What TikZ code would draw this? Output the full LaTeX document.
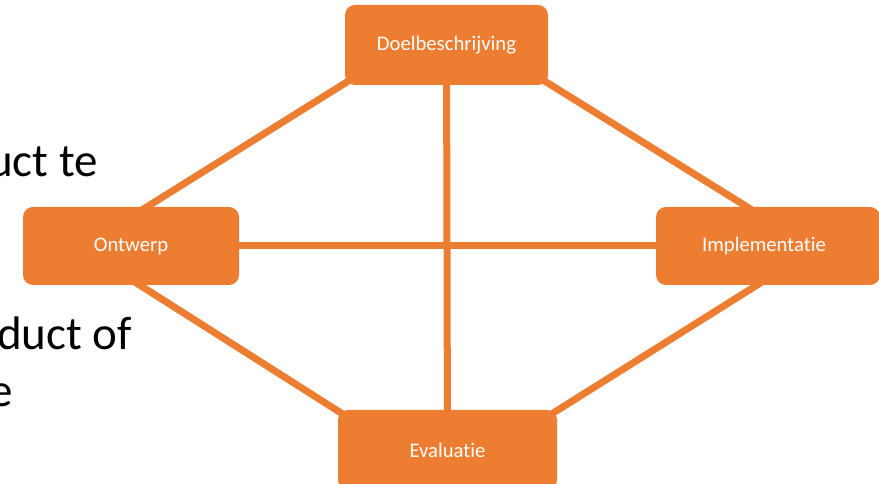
\documentclass[tikz,border=0pt]{standalone}
\usepackage{fontspec}
\setmainfont[Ligatures=NoCommon]{Carlito}
\usetikzlibrary{backgrounds,calc}
\definecolor{accent}{HTML}{ED7D31}
\begin{document}
\begin{tikzpicture}[x=1pt,y=1pt,
  stagebox/.style={fill=accent,draw=none,rounded corners=10pt,inner sep=0pt,
    text=white,font=\fontsize{20.7}{24}\selectfont},
  link/.style={draw=accent,line width=7pt},
  bgtext/.style={anchor=base east,inner sep=0pt,text=black,font=\fontsize{47}{56}\selectfont}]
\useasboundingbox (0,0) rectangle (879,484);
% background slide text
\node[bgtext] (t1) at (98,307) {uct te};
\node[bgtext] (t2) at (132,134) {duct of};
\node[bgtext] (t3) at (13,77) {e};
% boxes
\node[stagebox,minimum width=203pt,minimum height=80pt] (doel) at (446.5,439) {Doelbeschrijving};
\node[stagebox,minimum width=216pt,minimum height=78pt] (ontwerp) at (131,238) {Ontwerp};
\node[stagebox,minimum width=224pt,minimum height=78pt] (impl) at (768,238) {\hspace*{-8pt}Implementatie};
\node[stagebox,minimum width=219pt,minimum height=80pt] (eval) at (447.5,34) {Evaluatie};
% connectors
\begin{scope}[on background layer]
\fill[white] (0,0) rectangle (879,484);
\draw[link] ($(doel.south west)+(21,15)$) -- ($(ontwerp.north)+(0,-10)$);
\draw[link] ($(doel.south east)+(-21,15)$) -- ($(impl.north)+(-5,-10)$);
\draw[link] ($(ontwerp.south)+(-10,12)$) -- ($(eval.north west)+(25,-17)$);
\draw[link] ($(impl.south)+(8,12)$) -- ($(eval.north east)+(-26,-17)$);
\draw[link] (doel.center) -- (eval.center);
\draw[link] (ontwerp.center) -- (impl.center);
\end{scope}
\end{tikzpicture}
\end{document}
